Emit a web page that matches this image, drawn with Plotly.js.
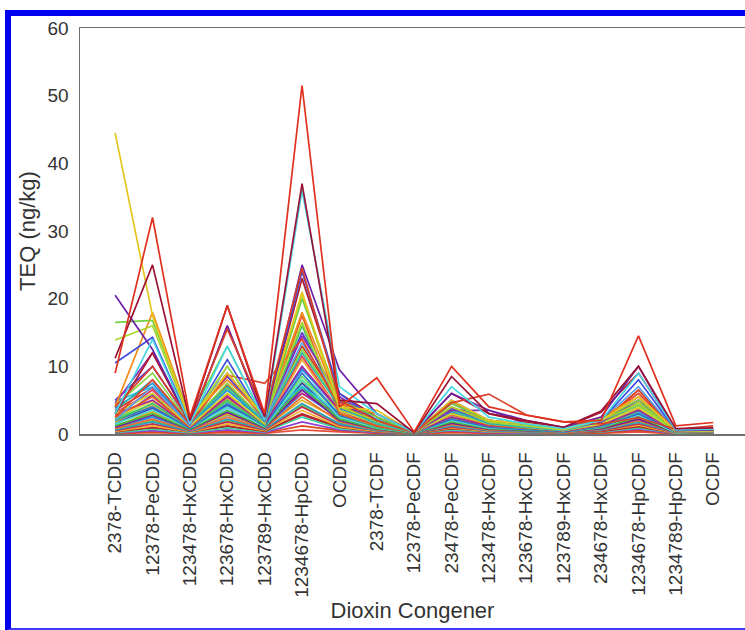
<!DOCTYPE html>
<html>
<head>
<meta charset="utf-8">
<script src="https://cdn.plot.ly/plotly-3.0.1.min.js"></script>
<style>
  html, body { margin: 0; padding: 0; background: #ffffff; }
  #wrap { position: relative; width: 745px; height: 630px; overflow: hidden; }
  #chart { position: absolute; left: 0; top: 0; width: 745px; height: 630px; }
  #frame {
    position: absolute; left: 5px; top: 10px; width: 780px; height: 612px;
    border-top: 6px solid #0000f0; border-left: 6px solid #0000f0;
    border-bottom: 3px solid #3c3cf4; pointer-events: none;
  }
</style>
</head>
<body>
<div id="wrap">
  <div id="chart"></div>
  <div id="frame"></div>
</div>
<script>
// PCDD/F congeners along the x axis
const congeners = [
  '2378-TCDD', '12378-PeCDD', '123478-HxCDD', '123678-HxCDD', '123789-HxCDD',
  '1234678-HpCDD', 'OCDD', '2378-TCDF', '12378-PeCDF', '23478-PeCDF',
  '123478-HxCDF', '123678-HxCDF', '123789-HxCDF', '234678-HxCDF',
  '1234678-HpCDF', '1234789-HpCDF', 'OCDF'
];

// TEQ (ng/kg) per sample, one row per sample, congeners in the order above
const highSamples = [
  [9, 32, 2.5, 19, 3, 51.5, 4, 8.3, 0.3, 10, 4, 2.8, 1.8, 2, 14.5, 1.2, 1.7],
  [11.2, 25, 2, 19, 2.5, 37, 5, 4.5, 0.2, 8.5, 3, 2, 1, 3.4, 10, 0.8, 0.9],
  [3, 14, 1.5, 13, 2, 36, 7, 3, 0.2, 7, 2.5, 1.5, 0.8, 2, 9, 0.6, 0.7],
  [4, 10, 2, 15.5, 3, 24.5, 5, 2, 0.2, 4.6, 5.9, 2.8, 1.8, 1.5, 2.4, 0.7, 1.2],
  [20.5, 12.5, 1.5, 16, 2, 25, 9.5, 3, 0.3, 6, 3.5, 2, 1, 2.5, 10, 0.5, 0.6],
  [44.5, 17.5, 2, 9, 2.5, 21, 4, 3.5, 0.2, 5, 2, 1.5, 0.7, 2, 5.5, 0.5, 0.5],
  [16.5, 16.8, 2.5, 13, 2, 20, 5, 2.5, 0.2, 4.5, 2, 1.5, 0.8, 2.2, 5, 0.5, 0.6],
  [13.9, 16, 2, 10, 2.2, 16.5, 4, 2, 0.2, 4, 1.8, 1.2, 0.6, 2, 4.5, 0.4, 0.5],
  [10.5, 14.3, 1.8, 11, 2, 24, 6, 2, 0.2, 5, 2, 1.4, 0.6, 2, 8, 0.5, 0.6],
  [4, 18, 2.5, 8, 2.5, 18, 4.5, 3, 0.2, 4.8, 2, 1.5, 0.8, 2.5, 5.5, 0.6, 0.7],
  [3, 12, 1.5, 16, 2, 23, 6, 2.5, 0.2, 6, 3, 1.8, 0.9, 3.2, 9, 0.6, 0.7]
];

const midSamples = [
  [2.5, 8, 1.5, 8.7, 7.5, 14, 4, 2, 0.2, 4, 2, 1.5, 0.8, 2, 6, 0.5, 0.6],
  [2, 7, 1.2, 10, 2, 13.5, 5, 2, 0.2, 4.5, 2, 1.2, 0.6, 2, 7, 0.4, 0.5],
  [4.5, 12, 2, 9, 2, 14.5, 5.5, 2, 0.2, 3.5, 3.5, 1.5, 0.7, 1.8, 5, 0.4, 0.5],
  [3.5, 8, 1.5, 7, 1.8, 12, 4, 1.5, 0.2, 3.5, 1.5, 1, 0.5, 1.8, 4.5, 0.4, 0.4],
  [3, 6, 1.2, 6, 1.5, 20.5, 3.5, 1.5, 0.2, 3, 1.5, 1, 0.5, 1.5, 4, 0.4, 0.4],
  [2.5, 5.5, 1, 6, 1.5, 17.5, 3, 1.2, 0.2, 3, 1.3, 0.9, 0.5, 1.4, 5, 0.3, 0.4],
  [3, 5, 1, 5.5, 1.5, 10, 3.5, 1.2, 0.2, 2.5, 1.2, 0.9, 0.4, 1.3, 3.5, 0.3, 0.3],
  [2, 4.5, 1, 5, 1.3, 16, 3, 1, 0.15, 2.5, 1.2, 0.8, 0.4, 1.2, 3.5, 0.3, 0.3],
  [2, 4, 0.8, 4.5, 1.2, 9, 2.8, 1, 0.15, 2.2, 1, 0.7, 0.3, 1.1, 3, 0.3, 0.3],
  [1.8, 4.2, 0.9, 5.2, 1.3, 11, 3.2, 1.1, 0.15, 2.6, 1, 0.8, 0.4, 1.2, 3.8, 0.3, 0.3],
  [1.5, 3.5, 0.8, 4, 1.1, 8, 2.5, 0.9, 0.15, 2, 0.9, 0.7, 0.3, 1, 2.8, 0.2, 0.3],
  [3.8, 7.5, 1.4, 6.5, 1.8, 9.5, 3.8, 1.5, 0.2, 3.2, 1.4, 1, 0.5, 1.6, 4, 0.3, 0.4],
  [2.8, 6.5, 1.2, 5.8, 1.6, 11.5, 3.3, 1.3, 0.2, 2.9, 1.3, 0.9, 0.4, 1.5, 3.6, 0.3, 0.4],
  [4.2, 9, 1.6, 7.5, 2, 12.5, 4.2, 1.7, 0.2, 3.3, 1.5, 1.1, 0.5, 1.7, 4.2, 0.4, 0.4],
  [5, 10, 1.8, 8.5, 2.2, 15, 4.8, 1.8, 0.2, 3.8, 1.7, 1.2, 0.6, 1.9, 5.5, 0.4, 0.5],
  [3.5, 6.8, 1.5, 7.2, 1.9, 13, 4.6, 1.6, 0.2, 3.4, 1.5, 1.1, 0.5, 1.7, 6.5, 0.4, 0.4],
  [4.8, 7, 2, 5.5, 2.5, 7, 3.2, 2.2, 0.2, 3.6, 1.6, 1.2, 0.6, 1.8, 3.3, 0.4, 0.5],
  [2.6, 4.8, 1.3, 5.3, 1.6, 12, 3.1, 1.3, 0.2, 2.8, 1.2, 0.9, 0.4, 1.4, 4.6, 0.3, 0.3]
];

const lowSamples = [
  [1.2, 3, 0.7, 3.5, 1, 7, 2.2, 0.8, 0.1, 1.8, 0.8, 0.6, 0.3, 0.9, 2.5, 0.2, 0.2],
  [1, 2.8, 0.6, 3.2, 0.9, 6.5, 2, 0.7, 0.1, 1.6, 0.7, 0.5, 0.3, 0.8, 2.2, 0.2, 0.2],
  [0.8, 2.2, 0.5, 2.5, 0.8, 5.5, 1.8, 0.6, 0.1, 1.4, 0.6, 0.5, 0.2, 0.7, 2, 0.2, 0.2],
  [0.6, 1.8, 0.4, 2.2, 0.7, 4.5, 1.5, 0.5, 0.1, 1.2, 0.5, 0.4, 0.2, 0.6, 1.7, 0.15, 0.2],
  [0.5, 1.5, 0.4, 1.8, 0.6, 4, 1.3, 0.5, 0.1, 1, 0.5, 0.4, 0.2, 0.5, 1.5, 0.15, 0.15],
  [2.2, 5, 1, 4.8, 1.4, 8.5, 3, 1.1, 0.15, 2.4, 1.1, 0.8, 0.4, 1.3, 3.2, 0.3, 0.3],
  [1.6, 3.8, 0.8, 4.2, 1.2, 7.5, 2.6, 0.9, 0.15, 2.1, 0.9, 0.7, 0.3, 1.1, 2.9, 0.2, 0.3],
  [0.4, 1.2, 0.3, 1.5, 0.5, 3.5, 1.1, 0.4, 0.1, 0.9, 0.4, 0.3, 0.15, 0.5, 1.3, 0.1, 0.15],
  [0.3, 1, 0.3, 1.2, 0.4, 3, 1, 0.3, 0.05, 0.8, 0.4, 0.3, 0.1, 0.4, 1.1, 0.1, 0.1],
  [0.2, 0.7, 0.2, 0.9, 0.3, 2.5, 0.8, 0.3, 0.05, 0.6, 0.3, 0.2, 0.1, 0.3, 0.9, 0.1, 0.1],
  [0.15, 0.5, 0.15, 0.6, 0.2, 1.8, 0.6, 0.2, 0.05, 0.5, 0.2, 0.2, 0.1, 0.3, 0.7, 0.05, 0.1],
  [0.1, 0.3, 0.1, 0.4, 0.15, 1.2, 0.5, 0.15, 0.03, 0.3, 0.15, 0.1, 0.05, 0.2, 0.5, 0.05, 0.05],
  [1.4, 4.5, 0.9, 3.8, 1.1, 10, 2.4, 1, 0.15, 2.3, 1, 0.8, 0.3, 1.2, 3.1, 0.2, 0.3],
  [2.5, 4, 1.1, 6.8, 1.5, 8, 3.6, 1.2, 0.2, 2.7, 1.2, 0.9, 0.4, 1.3, 3.4, 0.3, 0.3],
  [3.2, 6, 1.3, 4.2, 1.7, 6, 2.9, 1.4, 0.2, 3.1, 1.4, 1, 0.4, 1.5, 2.6, 0.3, 0.4],
  [1.9, 3.2, 0.7, 2.9, 1, 5, 2.1, 0.8, 0.1, 1.9, 0.8, 0.6, 0.3, 1, 2.3, 0.2, 0.2],
  [0.9, 2.5, 0.6, 2.8, 0.9, 6, 2.3, 0.7, 0.1, 1.5, 0.7, 0.5, 0.2, 0.8, 2.4, 0.2, 0.2],
  [0.7, 2, 0.5, 2, 0.6, 4.2, 1.6, 0.6, 0.1, 1.3, 0.6, 0.5, 0.2, 0.7, 1.9, 0.2, 0.2],
  [0.35, 0.9, 0.25, 1.1, 0.35, 2.8, 0.9, 0.3, 0.05, 0.7, 0.3, 0.25, 0.1, 0.4, 1, 0.1, 0.1],
  [1.1, 3.3, 0.7, 3, 1, 7.8, 2.7, 0.8, 0.1, 1.7, 0.8, 0.6, 0.3, 0.9, 2.7, 0.2, 0.2],
  [2, 5.8, 1.1, 5, 1.4, 9.8, 3.4, 1.2, 0.15, 2.6, 1.1, 0.8, 0.4, 1.3, 4.2, 0.3, 0.3],
  [1.3, 2.6, 0.6, 3.3, 1, 6.8, 2.4, 0.8, 0.1, 1.6, 0.8, 0.6, 0.3, 0.9, 2.6, 0.2, 0.2],
  [0.05, 0.2, 0.05, 0.2, 0.1, 0.6, 0.3, 0.1, 0.02, 0.2, 0.1, 0.05, 0.03, 0.1, 0.3, 0.02, 0.03]
];

// one colour per sample line
const lineColors = [
  '#e0301e', '#9a1236', '#46d6e6', '#d8402a', '#6c22a8', '#e6c61e', '#72d23e',
  '#a8d82c', '#3e4ee0', '#f28a1e', '#b01a2e', '#e2442c', '#58a2ea', '#8a2cb8',
  '#2eb8ae', '#cad832', '#ea5a22', '#a422a0', '#3ec464', '#2f72d2', '#f2a632',
  '#52e0cc', '#1e90e0', '#e83c60', '#8ad84a', '#5a3ad0', '#d63a1c', '#20c0e0',
  '#f0d040', '#4ab43c', '#7a1a9a', '#e87030', '#30a0c0', '#c03050', '#60e060',
  '#3050b8', '#f4b028', '#b02828', '#40d0a0', '#9040d0', '#d84818', '#68c8f0',
  '#98e030', '#d02878', '#e0b020', '#2a88f0', '#5ac850', '#c01c40', '#f09000',
  '#7030c0', '#38d8d8', '#e85040'
];

const samples = highSamples.concat(midSamples, lowSamples);

// draw the low lines first so the high profiles sit on top
const traces = samples.map((vals, i) => ({
  type: 'scatter',
  mode: 'lines',
  x: congeners,
  y: vals,
  line: { color: lineColors[i % lineColors.length], width: 1.7 },
  hoverinfo: 'skip',
  showlegend: false
})).reverse();

const textFamily = 'Liberation Sans, Arial, sans-serif';
const tickFont = { family: textFamily, size: 19, color: '#333333' };
const titleFont = { family: textFamily, size: 22, color: '#333333' };

const layout = {
  width: 745,
  height: 630,
  margin: { l: 80, r: 0, t: 28, b: 196 },
  paper_bgcolor: '#ffffff',
  plot_bgcolor: '#ffffff',
  showlegend: false,
  xaxis: {
    type: 'category',
    range: [-0.94, 16.85],
    showgrid: false,
    zeroline: false,
    showline: true,
    mirror: true,
    linecolor: '#707070',
    linewidth: 1.5,
    ticks: '',
    tickangle: -90,
    ticklabelstandoff: 9,
    tickfont: tickFont,
    title: { text: 'Dioxin Congener', font: titleFont, standoff: 6 }
  },
  yaxis: {
    range: [0, 60],
    tickvals: [0, 10, 20, 30, 40, 50, 60],
    showgrid: false,
    zeroline: false,
    showline: true,
    linecolor: '#707070',
    linewidth: 1.5,
    ticks: '',
    ticklabelstandoff: 6,
    tickfont: tickFont,
    title: { text: 'TEQ (ng/kg)', font: titleFont, standoff: 6 }
  }
};

Plotly.newPlot('chart', traces, layout, { staticPlot: true, displayModeBar: false });
</script>
</body>
</html>
